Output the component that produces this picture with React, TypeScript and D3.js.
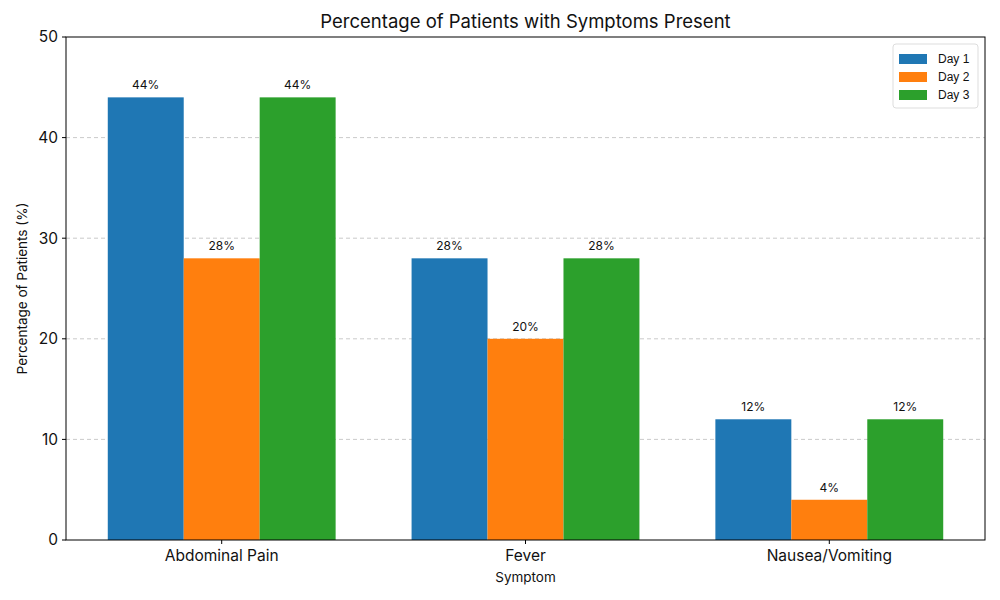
import React from "react";
import * as d3 from "d3";

const categories = ["Abdominal Pain", "Fever", "Nausea/Vomiting"];
const seriesNames = ["Day 1", "Day 2", "Day 3"];
const day1 = [44, 28, 12];
const day2 = [28, 20, 4];
const day3 = [44, 28, 12];
const yTicks = [0, 10, 20, 30, 40, 50];
const colors = ["#1f77b4", "#ff7f0e", "#2ca02c"];

const W = 1000, H = 600;
const M = { left: 66, right: 985, top: 37, bottom: 540 };
const FONT = "Inter, 'Open Sans', sans-serif";

export default function App() {
  const series = [day1, day2, day3];
  const x = d3.scaleLinear().domain([-0.5125, 2.5125]).range([M.left, M.right]);
  const y = d3.scaleLinear().domain([0, 50]).range([M.bottom, M.top]);
  const bw = 0.25;
  return (
    <svg width={W} height={H} style={{ position: "absolute", left: 0, top: 0 }} fontFamily={FONT}>
      <rect width={W} height={H} fill="#fff" />
      {yTicks.filter(t => t > 0 && t < 50).map(t => (
        <line key={t} x1={M.left} x2={M.right} y1={y(t)} y2={y(t)} stroke="#bdbdbd" strokeDasharray="4,3" strokeWidth={0.8} />
      ))}
      {series.map((vals, si) =>
        vals.map((v, ci) => {
          const xc = ci + (si - 1) * bw;
          const x0 = x(xc - bw / 2), x1 = x(xc + bw / 2);
          return (
            <g key={`${si}-${ci}`}>
              <rect x={x0} y={y(v)} width={x1 - x0} height={y(0) - y(v)} fill={colors[si]} />
              <text x={(x0 + x1) / 2} y={y(v) - 8} textAnchor="middle" fontSize={12} fill="#111">{v}%</text>
            </g>
          );
        })
      )}
      <rect x={M.left} y={M.top} width={M.right - M.left} height={M.bottom - M.top} fill="none" stroke="#000" strokeWidth={1} />
      {yTicks.map(t => (
        <g key={t}>
          <line x1={M.left - 4} x2={M.left} y1={y(t)} y2={y(t)} stroke="#000" />
          <text x={M.left - 8} y={y(t)} dy="0.35em" textAnchor="end" fontSize={15.5} fill="#111">{t}</text>
        </g>
      ))}
      {categories.map((c, ci) => (
        <g key={c}>
          <line x1={x(ci)} x2={x(ci)} y1={M.bottom} y2={M.bottom + 4} stroke="#000" />
          <text x={x(ci)} y={M.bottom + 21} textAnchor="middle" fontSize={15.5} fill="#111">{c}</text>
        </g>
      ))}
      <text x={(M.left + M.right) / 2} y={582} textAnchor="middle" fontSize={13.5} fill="#111">Symptom</text>
      <text transform={`translate(27,${(M.top + M.bottom) / 2}) rotate(-90)`} textAnchor="middle" fontSize={13.5} fill="#111">Percentage of Patients (%)</text>
      <text x={(M.left + M.right) / 2} y={28} textAnchor="middle" fontSize={18.5} fill="#111">Percentage of Patients with Symptoms Present</text>
      <g transform="translate(893,44)">
        <rect x={0} y={0} width={85} height={64} rx={3} fill="#fff" stroke="#ddd" />
        {seriesNames.map((s, i) => (
          <g key={s} transform={`translate(0,${10 + i * 18})`}>
            <rect x={6} y={0} width={28} height={10} fill={colors[i]} />
            <text x={45} y={5} dy="0.35em" fontSize={12} fontFamily="'Liberation Sans', Arial, sans-serif" fill="#111">{s}</text>
          </g>
        ))}
      </g>
    </svg>
  );
}
